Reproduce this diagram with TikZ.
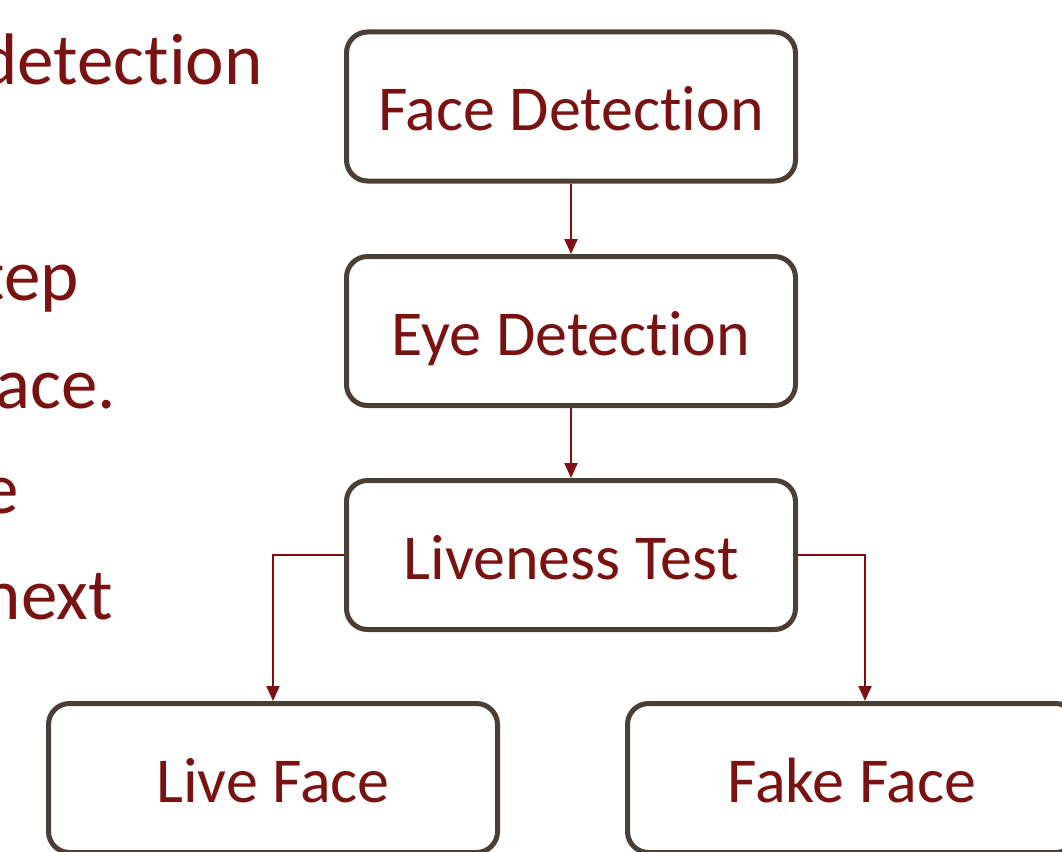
\documentclass[tikz,border=0pt]{standalone}
\usepackage{fontspec}
\setmainfont{Carlito}[Ligatures=NoCommon]
\usetikzlibrary{arrows.meta}
\definecolor{boxline}{HTML}{4B3F35}
\definecolor{txtred}{HTML}{7B1212}
\definecolor{arrred}{HTML}{801010}
\tikzset{
  stage/.style={draw=boxline, line width=5pt, rounded corners=21pt,
    minimum width=449pt, minimum height=149pt, inner sep=0pt,
    text=txtred, font=\fontsize{64}{77}\selectfont,
    text height=54pt, text depth=6pt},
  flow/.style={draw=arrred, line width=2pt,
    -{Triangle[width=13pt,length=15pt]}},
  sidetext/.style={anchor=base east, inner sep=0pt, text=txtred,
    font=\fontsize{73}{88}\selectfont}
}
\begin{document}
\begin{tikzpicture}[x=1pt, y=-1pt]
  \useasboundingbox (0,0) rectangle (1062,851);
  % bullet text running in from the left
  \node[sidetext] (t1) at (263,84) {detection};
  \node[sidetext] (t2) at (79,300) {tep};
  \node[sidetext] (t3) at (116,408) {ace.};
  \node[sidetext] (t4) at (19,513) {e};
  \node[sidetext] (t5) at (113,619) {next};
  % pipeline stages
  \node[stage] (face) at (571,106.5) {Face Detection};
  \node[stage] (eye)  at (571,331)   {Eye Detection};
  \node[stage] (live) at (571,555)   {Liveness Test};
  \node[stage] (lf)   at (273,778)   {Live Face};
  \node[stage] (ff)   at (852,778)   {Fake Face};
  % connectors
  \draw[flow] (face.south) -- (eye.north);
  \draw[flow] (eye.south) -- (live.north);
  \draw[flow] (live.west) -| (lf.north);
  \draw[flow] (live.east) -| ([xshift=13pt]ff.north);
\end{tikzpicture}
\end{document}
